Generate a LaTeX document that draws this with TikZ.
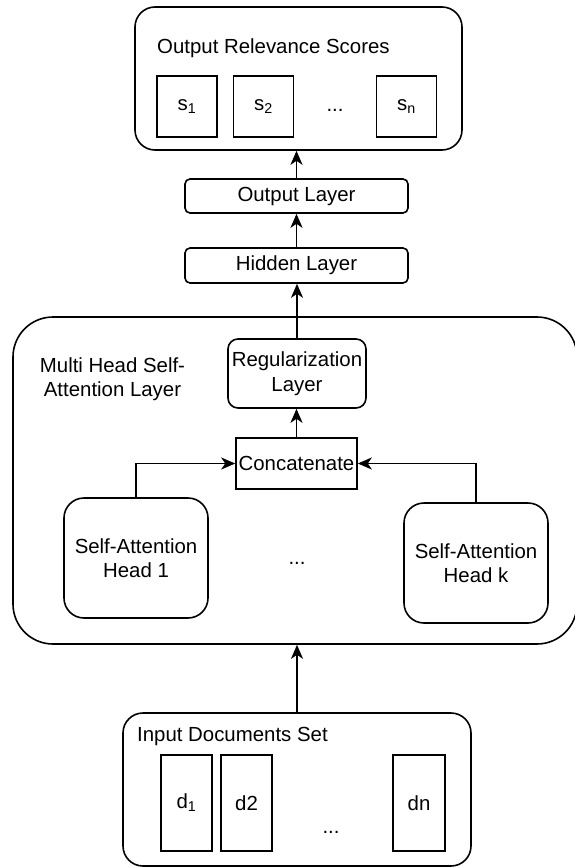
\documentclass[tikz,border=0pt]{standalone}
\usepackage{fontspec}
\setmainfont{Liberation Sans}
\usetikzlibrary{arrows.meta}
\tikzset{
  base/.style={draw, line width=1.6pt, inner sep=0pt, font=\fontsize{20.4}{24.5}\selectfont, align=center},
  rbox/.style={base, rounded corners=#1},
  sbox/.style={base},
  lbl/.style={inner sep=0pt, font=\fontsize{20.4}{24.5}\selectfont, align=center},
  arr/.style={line width=1.6pt, -{Stealth[length=14pt,width=12pt,inset=4pt]}}
}
\begin{document}
\begin{tikzpicture}[x=1pt,y=-1pt]
\useasboundingbox (0,0) rectangle (574,867);
% top output box
\node[rbox=20pt, minimum width=327pt, minimum height=143pt] (out) at (298.5,78.5) {};
\node[lbl, anchor=base west] (outt) at (157,53) {Output Relevance Scores};
\node[sbox, minimum width=60pt, minimum height=61pt] (s1) at (187,106.5) {s\textsubscript{1}};
\node[sbox, minimum width=60pt, minimum height=61pt] (s2) at (263.5,106.5) {s\textsubscript{2}};
\node[sbox, minimum width=60pt, minimum height=61pt] (sn) at (406.5,106.5) {s\textsubscript{n}};
\node[lbl] (sdots) at (335,110) {...};
% layers
\node[rbox=5pt, minimum width=223pt, minimum height=34pt] (ol) at (296.5,196) {Output Layer};
\node[rbox=5pt, minimum width=223pt, minimum height=35pt] (hl) at (296.5,265.5) {Hidden Layer};
% multi head box
\node[rbox=40pt, minimum width=564pt, minimum height=327pt] (mh) at (295,480.5) {};
\node[lbl] (mht) at (112.5,379) {Multi Head Self-\\Attention Layer};
\node[rbox=10pt, minimum width=138pt, minimum height=69pt] (reg) at (297,373.5) {Regularization\\Layer};
\node[sbox, minimum width=121pt, minimum height=51pt] (cc) at (296.5,463.5) {Concatenate};
\node[rbox=20pt, minimum width=144pt, minimum height=120pt] (h1) at (136,558) {Self-Attention\\Head 1};
\node[rbox=20pt, minimum width=144pt, minimum height=120pt] (hk) at (476,563) {Self-Attention\\Head k};
\node[lbl] (hdots) at (297,563) {...};
% input box
\node[rbox=20pt, minimum width=348pt, minimum height=153pt] (in) at (297,789.5) {};
\node[lbl, anchor=west] (intt) at (137,736) {Input Documents Set};
\node[sbox, minimum width=51pt, minimum height=96pt] (d1) at (186.5,803) {d\textsubscript{1}};
\node[sbox, minimum width=51pt, minimum height=96pt] (d2) at (246.5,803) {d2};
\node[sbox, minimum width=52pt, minimum height=96pt] (dn) at (419,803) {dn};
\node[lbl] (ddots) at (331,832) {...};
% connectors
\draw[arr] (in.north) -- (in.north |- mh.south);
\draw[arr] (h1.north) |- (cc.west);
\draw[arr] (hk.north) |- (cc.east);
\draw[arr] (cc.north) -- (cc.north |- reg.south);
\draw[arr] (reg.north) -- (reg.north |- hl.south);
\draw[arr] (hl.north) -- (hl.north |- ol.south);
\draw[arr] (ol.north) -- (ol.north |- out.south);
\end{tikzpicture}
\end{document}
